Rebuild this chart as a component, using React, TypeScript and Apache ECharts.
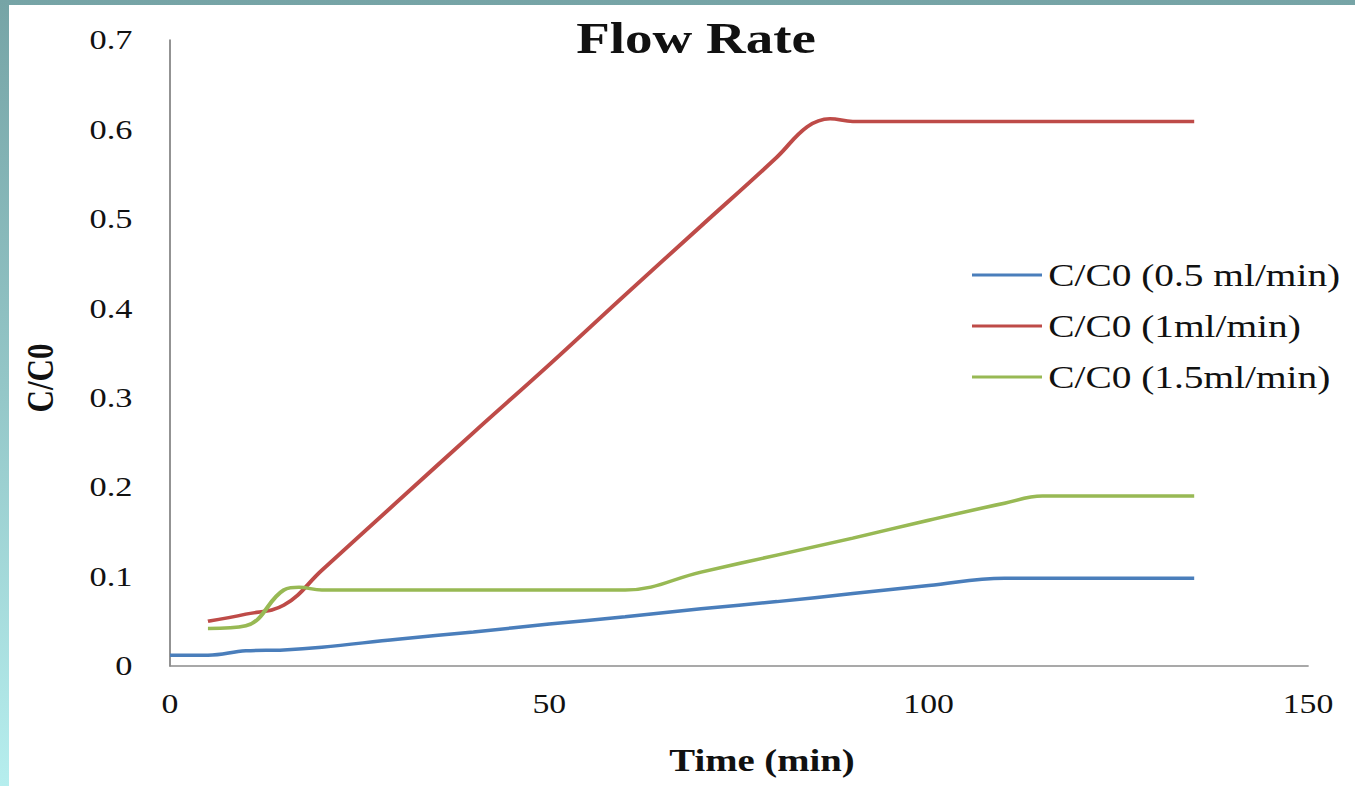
import React, { useEffect, useRef } from "react";
import * as echarts from "echarts";

// Horizontal stretch applied to the whole drawing (text included)
const STRETCH = 1.25;
const PAGE_W = 1355;
const PAGE_H = 786;
const CHART_W = PAGE_W / STRETCH;
const px = (x: number) => x / STRETCH; // page x -> chart x

const titleText = "Flow Rate";
const xAxisTitle = "Time (min)";
const yAxisTitle = "C/C0";
const seriesNames = ["C/C0 (0.5 ml/min)", "C/C0 (1ml/min)", "C/C0 (1.5ml/min)"];

// [time (min), C/C0]
const flow05: [number, number][] = [
  [0, 0.012], [5, 0.012], [10, 0.017], [15, 0.018], [20, 0.021], [30, 0.030],
  [40, 0.038], [50, 0.047], [60, 0.055], [70, 0.064], [80, 0.072], [90, 0.081],
  [100, 0.090], [110, 0.098], [120, 0.098], [135, 0.098],
];
const flow10: [number, number][] = [
  [5, 0.050], [10, 0.058], [15, 0.068], [20, 0.107], [30, 0.184], [40, 0.261],
  [50, 0.337], [60, 0.415], [70, 0.492], [80, 0.569], [84, 0.603], [87, 0.612],
  [90, 0.609], [100, 0.609], [120, 0.609], [135, 0.609],
];
const flow15: [number, number][] = [
  [5, 0.042], [10, 0.045], [15, 0.085], [17, 0.088], [20, 0.085], [30, 0.085],
  [40, 0.085], [50, 0.085], [60, 0.085], [70, 0.105], [80, 0.124], [90, 0.143],
  [100, 0.163], [110, 0.182], [115, 0.19], [120, 0.19], [135, 0.19],
];

const colors = ["#4A7EBB", "#BE4B48", "#98B954"];
const FONT = '"Liberation Serif", "Times New Roman", serif';

export default function App() {
  const ref = useRef<HTMLDivElement>(null);

  useEffect(() => {
    if (!ref.current) return;
    const chart = echarts.init(ref.current, undefined, { renderer: "svg" });
    const mkSeries = (name: string, data: [number, number][], color: string) => ({
      name,
      type: "line",
      data,
      smooth: 0.4,
      showSymbol: false,
      symbol: "none",
      lineStyle: { color, width: 3.5 },
      itemStyle: { color },
    });
    chart.setOption({
      animation: false,
      backgroundColor: "transparent",
      grid: {
        left: px(170),
        right: CHART_W - px(1308),
        top: 40,
        bottom: PAGE_H - 666,
        containLabel: false,
      },
      xAxis: {
        type: "value",
        min: 0,
        max: 150,
        interval: 50,
        axisLine: { show: true, lineStyle: { color: "#8c8c8c", width: 1.5 } },
        axisTick: { show: false },
        splitLine: { show: false },
        axisLabel: { fontFamily: FONT, fontSize: 27, color: "#111", margin: 25 },
      },
      yAxis: {
        type: "value",
        min: 0,
        max: 0.7,
        interval: 0.1,
        axisLine: { show: true, lineStyle: { color: "#8c8c8c", width: 1.5 } },
        axisTick: { show: false },
        splitLine: { show: false },
        axisLabel: { fontFamily: FONT, fontSize: 27.5, color: "#111", margin: 30 },
      },
      legend: {
        orient: "vertical",
        left: px(972) - 5,
        top: 254,
        icon: "rect",
        itemWidth: px(1042) - px(972),
        itemHeight: 3,
        itemGap: 19,
        textStyle: { fontFamily: FONT, fontSize: 31.5, color: "#111", lineHeight: 31 },
        data: seriesNames,
      },
      graphic: [
        {
          type: "text",
          x: px(696),
          y: 16,
          style: {
            text: titleText,
            font: `bold 44px ${FONT}`,
            fill: "#111",
            textAlign: "center",
            textVerticalAlign: "top",
          },
        },
        {
          type: "text",
          x: px(762),
          y: 745,
          style: {
            text: xAxisTitle,
            font: `bold 31px ${FONT}`,
            fill: "#111",
            textAlign: "center",
            textVerticalAlign: "top",
          },
        },
        {
          type: "text",
          x: px(40),
          y: 378,
          rotation: Math.PI / 2,
          style: {
            text: yAxisTitle,
            font: `bold 31px ${FONT}`,
            fill: "#111",
            textAlign: "center",
            textVerticalAlign: "middle",
          },
        },
      ],
      series: [
        mkSeries(seriesNames[0], flow05, colors[0]),
        mkSeries(seriesNames[1], flow10, colors[1]),
        mkSeries(seriesNames[2], flow15, colors[2]),
      ],
    });
    return () => chart.dispose();
  }, []);

  return (
    <div
      style={{
        position: "fixed",
        left: 0,
        top: 0,
        width: PAGE_W,
        height: PAGE_H,
        overflow: "hidden",
        background: "linear-gradient(180deg, #76a4a6 0%, #94c7c8 50%, #b6eeee 100%)",
      }}
    >
      <div
        style={{
          position: "absolute",
          left: 9,
          top: 5,
          right: 0,
          bottom: 0,
          background: "#ffffff",
        }}
      />
      <div
        ref={ref}
        style={{
          position: "absolute",
          left: 0,
          top: 0,
          width: CHART_W,
          height: PAGE_H,
          transform: `scaleX(${STRETCH})`,
          transformOrigin: "0 0",
        }}
      />
    </div>
  );
}
